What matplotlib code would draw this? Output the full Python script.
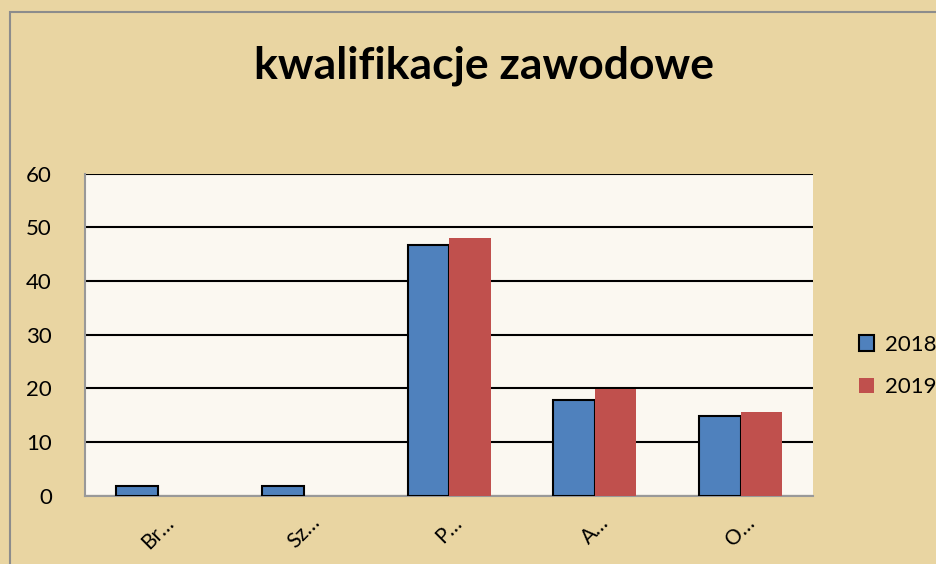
import numpy as np
import matplotlib.pyplot as plt
from matplotlib.patches import Rectangle

categories = ['Br…', 'Sz…', 'P…', 'A…', 'O…']
v2018 = [1.8, 1.8, 46.8, 17.8, 14.8]
v2019 = [0, 0, 48.0, 19.8, 15.6]
yticks = [0, 10, 20, 30, 40, 50, 60]

plt.rcParams['font.family'] = ['Lato', 'DejaVu Sans']

fig = plt.figure(figsize=(9.36, 5.64), dpi=100)
fig.patch.set_facecolor('#E9D5A2')
fig.patches.append(Rectangle((0.011, -0.05), 1.05, 1.028, transform=fig.transFigure,
                             fill=False, edgecolor='#8c8c8c', linewidth=1.5))

ax = fig.add_axes([0.091, 0.121, 0.778, 0.571])
ax.set_facecolor('#FBF8F1')

x = np.arange(len(categories))
w = 0.285
ax.bar(x - w/2, v2018, w, color='#4F81BD', edgecolor='black', linewidth=1.5, label='2018', zorder=3)
ax.bar(x + w/2, v2019, w, color='#C0504D', linewidth=0, label='2019', zorder=3)

ax.set_xlim(-0.5, len(categories) - 0.5)
ax.set_ylim(0, 60)
ax.set_yticks(yticks)
ax.yaxis.grid(True, color='black', linewidth=1.5, zorder=1)
ax.set_axisbelow(True)
ax.tick_params(axis='y', length=0, labelsize=16, pad=24)
ax.tick_params(axis='x', length=0, labelsize=15, pad=12)
ax.set_xticks(x)
ax.set_xticklabels(categories, rotation=45, ha='center')
for s in ['top', 'right']:
    ax.spines[s].set_visible(False)
for s in ['left', 'bottom']:
    ax.spines[s].set_color('#999999')
    ax.spines[s].set_linewidth(1.5)

fig.text(0.517, 0.883, 'kwalifikacje zawodowe', ha='center', va='center',
         fontsize=32, fontweight='bold')

ax.legend(loc='center left', bbox_to_anchor=(1.05, 0.403), frameon=False,
          fontsize=16, handlelength=0.7, handleheight=0.7, labelspacing=1.0,
          handletextpad=0.5, borderaxespad=0)

fig.savefig('out.png', dpi=100, facecolor=fig.get_facecolor())
